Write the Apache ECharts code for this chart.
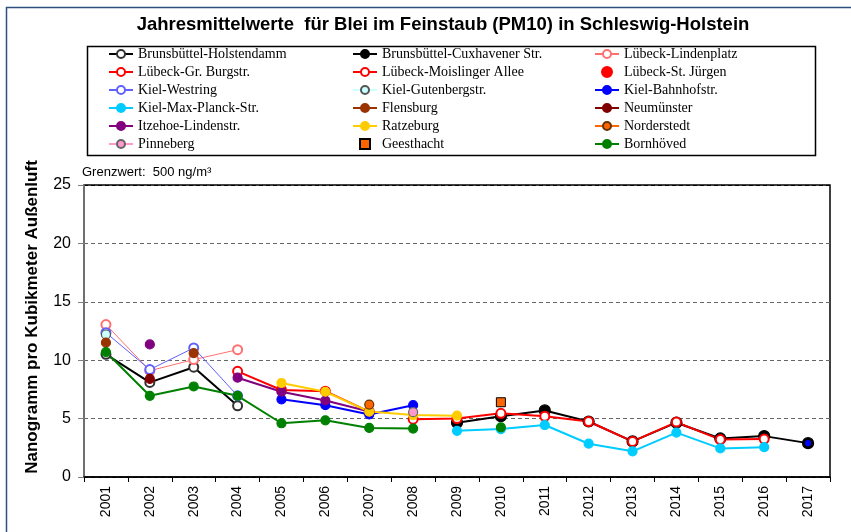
<!DOCTYPE html>
<html>
<head>
<meta charset="utf-8">
<script src="https://cdn.jsdelivr.net/npm/echarts@6/dist/echarts.min.js"></script>
<style>
  html, body { margin: 0; padding: 0; background: #fff; }
  #chart { width: 851px; height: 532px; }
</style>
</head>
<body>
<div id="chart"></div>
<script>
var years = ['2001','2002','2003','2004','2005','2006','2007','2008','2009','2010','2011','2012','2013','2014','2015','2016','2017'];
var yTicks = [0, 5, 10, 15, 20, 25];

var holstendamm = [10.5, 8.1, 9.4, 6.1, null, null, null, null, null, null, null, null, null, null, null, null, null];
var cuxhavener  = [null, null, null, null, null, null, null, null, 4.65, 5.2, 5.7, 4.75, 3.05, 4.65, 3.3, 3.5, 2.9];
var lindenplatz = [13.05, 9.1, 10.05, 10.9, null, null, null, null, null, null, null, null, null, null, null, null, null];
var grBurgstr   = [null, null, null, 9.05, 7.45, 7.35, 5.6, null, null, null, null, null, null, null, null, null, null];
var moislinger  = [null, null, null, null, null, null, null, 4.95, 5.0, 5.45, 5.2, 4.75, 3.05, 4.7, 3.2, 3.25, null];
var stJuergen   = [null, null, null, null, null, null, null, null, null, null, null, null, null, null, null, null, 2.9];
var westring    = [12.35, 9.2, 11.05, 6.95, null, null, null, null, null, null, null, null, null, null, null, null, null];
var gutenberg   = [12.2, null, null, null, null, null, null, null, null, null, null, null, null, null, null, null, null];
var bahnhofstr  = [null, null, null, null, 6.65, 6.15, 5.35, 6.15, null, null, null, null, null, null, null, null, 2.9];
var maxPlanck   = [null, null, null, null, null, null, null, null, 3.95, 4.1, 4.45, 2.85, 2.2, 3.8, 2.45, 2.55, null];
var flensburg   = [11.5, null, 10.6, null, null, null, null, null, null, null, null, null, null, null, null, null, null];
var neumuenster = [null, 8.4, null, null, null, null, null, null, null, null, null, null, null, null, null, null, null];
var itzehoe     = [null, 11.35, null, 8.5, 7.3, 6.55, 5.6, null, null, null, null, null, null, null, null, null, null];
var ratzeburg   = [null, null, null, null, 8.05, 7.3, 5.6, 5.3, 5.25, null, null, null, null, null, null, null, null];
var norderstedt = [null, null, null, null, null, null, 6.2, null, null, null, null, null, null, null, null, null, null];
var pinneberg   = [null, null, null, null, null, null, null, 5.55, null, null, null, null, null, null, null, null, null];
var geesthacht  = [null, null, null, null, null, null, null, null, null, 6.4, null, null, null, null, null, null, null];
var bornhoeved  = [10.7, 6.95, 7.75, 6.95, 4.6, 4.85, 4.2, 4.15, null, 4.25, null, null, null, null, null, null, null];

// filled marker line
function lineSeries(name, data, color, width, fill, border, size) {
    return {
        name: name,
        type: 'line',
        data: data,
        symbol: 'circle',
        symbolSize: size || 9,
        connectNulls: false,
        animation: false,
        lineStyle: { color: color, width: width },
        itemStyle: { color: fill || color, borderColor: border || color, borderWidth: 1.2 },
        emphasis: { disabled: true }
    };
}

// open marker line (white inside)
function openSeries(name, data, color, width, ring) {
    return {
        name: name,
        type: 'line',
        data: data,
        symbol: 'emptyCircle',
        symbolSize: 9,
        connectNulls: false,
        animation: false,
        lineStyle: { color: color, width: width },
        itemStyle: { color: ring || color, borderColor: ring || color, borderWidth: 1.2 },
        emphasis: { disabled: true }
    };
}

function dotSeries(name, data, symbol, fill, border, size) {
    return {
        name: name,
        type: 'scatter',
        data: data,
        symbol: symbol,
        symbolSize: size,
        animation: false,
        itemStyle: { color: fill, borderColor: border, borderWidth: 1, opacity: 1 },
        emphasis: { disabled: true }
    };
}

var legendText = { fontFamily: 'Liberation Serif', fontSize: 14, color: '#000', lineHeight: 14 };
function legendCol(left, names) {
    return {
        orient: 'vertical',
        left: left,
        top: 42,
        itemWidth: 24,
        itemHeight: 10,
        itemGap: 4,
        selectedMode: false,
        textStyle: legendText,
        data: names
    };
}

var chart = echarts.init(document.getElementById('chart'), null, { renderer: 'canvas' });
var option = {
    backgroundColor: '#fff',
    title: {
        text: 'Jahresmittelwerte  für Blei im Feinstaub (PM10) in Schleswig-Holstein',
        left: 438,
        textAlign: 'center',
        top: 10,
        textStyle: { fontFamily: 'Liberation Sans', fontSize: 18.5, fontWeight: 'bold', color: '#000' }
    },
    legend: [
        legendCol(103, ['Brunsbüttel-Holstendamm', 'Lübeck-Gr. Burgstr.', 'Kiel-Westring', 'Kiel-Max-Planck-Str.', 'Itzehoe-Lindenstr.', 'Pinneberg']),
        legendCol(347, ['Brunsbüttel-Cuxhavener Str.', 'Lübeck-Moislinger Allee', 'Kiel-Gutenbergstr.', 'Flensburg', 'Ratzeburg',
                        { name: 'Geesthacht', icon: 'path://M0,0L10,0L10,10L0,10Z' }]),
        legendCol(589, ['Lübeck-Lindenplatz', 'Lübeck-St. Jürgen', 'Kiel-Bahnhofstr.', 'Neumünster', 'Norderstedt', 'Bornhöved'])
    ],
    grid: {
        left: 84, right: 21, top: 185, bottom: 55,
        show: true, borderColor: '#000', borderWidth: 1.5, backgroundColor: 'transparent'
    },
    xAxis: {
        type: 'category',
        data: years,
        boundaryGap: true,
        axisLine: { lineStyle: { color: '#000', width: 1.5 } },
        axisTick: { show: true, length: 5, lineStyle: { color: '#000' } },
        axisLabel: { rotate: 90, margin: 9, fontFamily: 'Liberation Sans', fontSize: 14, color: '#000' },
        splitLine: { show: false }
    },
    yAxis: {
        type: 'value',
        min: yTicks[0],
        max: yTicks[yTicks.length - 1],
        interval: 5,
        axisLine: { show: true, lineStyle: { color: '#808080', width: 1.5 } },
        axisTick: { show: true, length: 6, lineStyle: { color: '#808080' } },
        axisLabel: { margin: 13, fontFamily: 'Liberation Sans', fontSize: 16, color: '#000' },
        splitLine: {
            show: true,
            lineStyle: { type: [4, 3], width: 1, color: ['#000', '#666', '#666', '#666', '#666', '#000'] }
        }
    },
    graphic: [
        { type: 'rect', left: 4, top: 5, shape: { width: 860, height: 540 },
          style: { fill: 'none', stroke: '#2f4f7f', lineWidth: 1.5 }, silent: true },
        { type: 'rect', left: 85, top: 44, shape: { width: 728, height: 109 },
          style: { fill: 'none', stroke: '#000', lineWidth: 1.5 }, silent: true, z: -1 },
        { type: 'text', left: 82, top: 166,
          style: { text: 'Grenzwert:  500 ng/m³', font: '13px "Liberation Sans"', fill: '#000' } },
        { type: 'text', x: 32, y: 317, rotation: Math.PI / 2,
          style: { text: 'Nanogramm pro Kubikmeter Außenluft', font: 'bold 17px "Liberation Sans"',
                   fill: '#000', align: 'center', verticalAlign: 'middle' } }
    ],
    series: [
        openSeries('Brunsbüttel-Holstendamm', holstendamm, '#000', 2, '#333'),
        lineSeries('Brunsbüttel-Cuxhavener Str.', cuxhavener, '#000', 2, '#000', '#000', 11),
        openSeries('Lübeck-Lindenplatz', lindenplatz, '#ff7070', 1),
        openSeries('Lübeck-Gr. Burgstr.', grBurgstr, '#ff0000', 2),
        openSeries('Lübeck-Moislinger Allee', moislinger, '#ff0000', 2),
        dotSeries('Lübeck-St. Jürgen', stJuergen, 'circle', '#ff0000', '#ff0000', 9),
        openSeries('Kiel-Westring', westring, '#6060ff', 1),
        lineSeries('Kiel-Gutenbergstr.', gutenberg, '#ccffff', 4, '#ccffff', '#555'),
        (function () {
            var s = lineSeries('Kiel-Bahnhofstr.', bahnhofstr, '#0000ff', 2, '#0000ff', '#0000ff');
            s.symbolSize = function (v, p) { return p.dataIndex === years.length - 1 ? 5 : 9; };
            return s;
        })(),
        lineSeries('Kiel-Max-Planck-Str.', maxPlanck, '#00ccff', 2),
        lineSeries('Flensburg', flensburg, '#993300', 2),
        lineSeries('Neumünster', neumuenster, '#800000', 2),
        lineSeries('Itzehoe-Lindenstr.', itzehoe, '#800080', 2),
        lineSeries('Ratzeburg', ratzeburg, '#ffcc00', 2),
        lineSeries('Norderstedt', norderstedt, '#ff6600', 2, '#ff6600', '#663300'),
        lineSeries('Pinneberg', pinneberg, '#ff99cc', 2, '#ff99cc', '#666'),
        dotSeries('Geesthacht', geesthacht, 'rect', '#ff6600', '#000', 9),
        lineSeries('Bornhöved', bornhoeved, '#008000', 2)
    ]
};
chart.setOption(option);
</script>
</body>
</html>
